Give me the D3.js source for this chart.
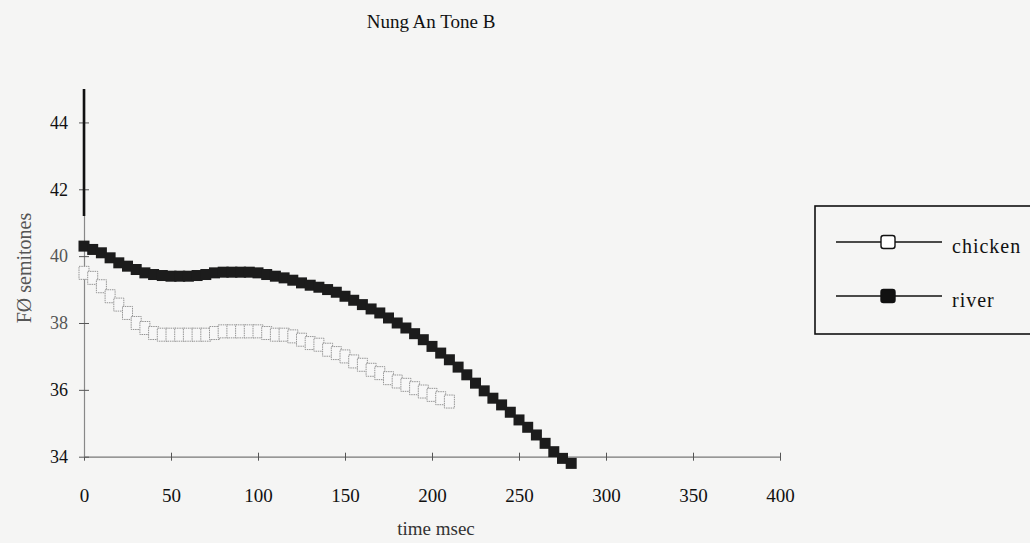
<!DOCTYPE html>
<html>
<head>
<meta charset="utf-8">
<script src="https://cdn.jsdelivr.net/npm/d3@7"></script>
<style>
    body { margin: 0; background: #f5f5f4; }
    svg { display: block; font-family: "Liberation Serif", "DejaVu Serif", serif; }
</style>
</head>
<body>
<script>
// Data (time in msec, F0 in semitones)
let chickenTimes = d3.range(0, 211, 5);
let chickenValues = [
    39.5, 39.35, 39.1, 38.8, 38.55, 38.3, 38.0, 37.85, 37.7, 37.65,
    37.65, 37.65, 37.65, 37.65, 37.65, 37.7, 37.75, 37.75, 37.75, 37.75,
    37.75, 37.7, 37.65, 37.65, 37.6, 37.5, 37.4, 37.35, 37.2, 37.1,
    37.0, 36.85, 36.75, 36.6, 36.5, 36.35, 36.25, 36.15, 36.05, 35.95,
    35.85, 35.75, 35.65
];
let riverTimes = d3.range(0, 281, 5);
let riverValues = [
    40.3, 40.2, 40.1, 39.95, 39.8, 39.7, 39.6, 39.5, 39.45, 39.42,
    39.4, 39.4, 39.4, 39.42, 39.45, 39.5, 39.52, 39.52, 39.52, 39.52,
    39.5, 39.45, 39.4, 39.35, 39.28, 39.2, 39.13, 39.07, 39.0, 38.92,
    38.8, 38.68, 38.55, 38.42, 38.3, 38.15, 38.0, 37.85, 37.68, 37.5,
    37.3, 37.1, 36.9, 36.68, 36.45, 36.2, 35.97, 35.75, 35.55, 35.33,
    35.1, 34.88, 34.65, 34.4, 34.15, 33.95, 33.8
];
let xTicks = [0, 50, 100, 150, 200, 250, 300, 350, 400];
let yTicks = [34, 36, 38, 40, 42, 44];
let seriesNames = ["chicken", "river"];

let width = 1030, height = 543;

let x = d3.scaleLinear([0, 400], [84, 780]);
let y = d3.scaleLinear([34, 45], [456.7, 89]);

let svg = d3.select("body")
    .append("svg")
    .attr("width", width)
    .attr("height", height);

// Title
svg.append("text")
    .attr("x", 431)
    .attr("y", 28)
    .attr("text-anchor", "middle")
    .style("font-size", "19px")
    .attr("fill", "#111")
    .text("Nung An Tone B");

// X axis
let xAxis = svg.append("g")
    .attr("transform", `translate(0, ${y(34)})`)
    .call(d3.axisBottom(x).tickValues(xTicks).tickSize(0).tickPadding(32));
xAxis.select(".domain").attr("stroke", "#777").attr("stroke-width", 1.2);
xAxis.selectAll(".tick").append("line")
    .attr("y1", -4).attr("y2", 4).attr("stroke", "#555");
xAxis.selectAll("text")
    .style("font-size", "19px")
    .style("font-family", "Liberation Serif, serif")
    .attr("fill", "#111");

// Y axis
let yAxis = svg.append("g")
    .attr("transform", `translate(${x(0)}, 0)`)
    .call(d3.axisLeft(y).tickValues(yTicks).tickSize(0).tickPadding(16));
yAxis.select(".domain").attr("stroke", "#888").attr("stroke-width", 1.2);
yAxis.selectAll(".tick").append("line")
    .attr("x1", -5).attr("x2", 5).attr("stroke", "#555");
yAxis.selectAll("text")
    .style("font-size", "18px")
    .style("font-family", "Liberation Serif, serif")
    .attr("fill", d => d == 38 || d == 40 ? "#555" : "#111");

// the upper part of the y axis is printed heavier in the scan
svg.append("line")
    .attr("x1", x(0)).attr("x2", x(0))
    .attr("y1", y(45)).attr("y2", y(41.2))
    .attr("stroke", "#111")
    .attr("stroke-width", 2.6);

// Axis titles
svg.append("text")
    .attr("transform", `translate(31, 268) rotate(-90)`)
    .attr("text-anchor", "middle")
    .style("font-size", "20px")
    .attr("fill", "#555")
    .text("FØ semitones");

svg.append("text")
    .attr("x", 436)
    .attr("y", 535)
    .attr("text-anchor", "middle")
    .style("font-size", "19px")
    .attr("fill", "#333")
    .text("time msec");

// Series
let chicken = chickenTimes.map((t, i) => [t, chickenValues[i]]);
let river = riverTimes.map((t, i) => [t, riverValues[i]]);
let line = d3.line(d => x(d[0]), d => y(d[1]));

svg.append("path")
    .attr("d", line(chicken))
    .attr("fill", "none")
    .attr("stroke", "#bbb")
    .attr("stroke-width", 0.8);

svg.append("g")
    .selectAll("rect")
    .data(chicken)
    .enter()
    .append("rect")
    .attr("x", d => x(d[0]) - 5)
    .attr("y", d => y(d[1]) - 6.5)
    .attr("width", 10)
    .attr("height", 13)
    .attr("fill", "#f7f7f7")
    .attr("stroke", "#8a8a8a")
    .attr("stroke-width", 0.9)
    .attr("stroke-dasharray", "1.5,0.8");

svg.append("path")
    .attr("d", line(river))
    .attr("fill", "none")
    .attr("stroke", "#222")
    .attr("stroke-width", 1);

svg.append("g")
    .selectAll("rect")
    .data(river)
    .enter()
    .append("rect")
    .attr("x", d => x(d[0]) - 5.5)
    .attr("y", d => y(d[1]) - 5.5)
    .attr("width", 11)
    .attr("height", 11)
    .attr("fill", "#1c1c1c");

// Legend
let legend = svg.append("g");

legend.append("rect")
    .attr("x", 815)
    .attr("y", 206)
    .attr("width", 230)
    .attr("height", 128)
    .attr("fill", "none")
    .attr("stroke", "#111")
    .attr("stroke-width", 1.6);

let rows = legend.selectAll(".legend-row")
    .data(seriesNames)
    .enter()
    .append("g")
    .attr("class", "legend-row")
    .attr("transform", (d, i) => `translate(0, ${242 + i * 54})`);

rows.append("line")
    .attr("x1", 836).attr("x2", 942)
    .attr("stroke", "#111")
    .attr("stroke-width", 1.4);

rows.append("rect")
    .attr("x", 881)
    .attr("y", -6.5)
    .attr("width", 14)
    .attr("height", 13)
    .attr("rx", 2.5)
    .attr("fill", d => d == "river" ? "#111" : "#fff")
    .attr("stroke", "#111")
    .attr("stroke-width", 1.4);

rows.append("text")
    .attr("x", 952)
    .attr("y", 11)
    .style("font-size", "20px")
    .style("letter-spacing", "1px")
    .attr("fill", "#111")
    .text(d => d);
</script>
</body>
</html>
